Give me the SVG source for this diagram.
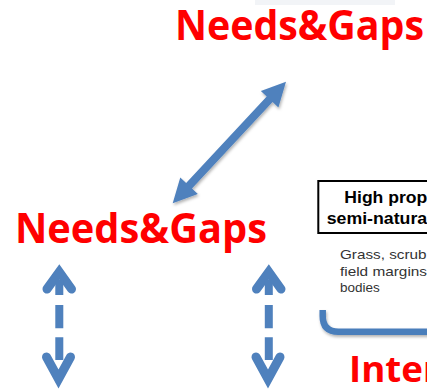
<svg xmlns="http://www.w3.org/2000/svg" width="427" height="391" viewBox="0 0 427 391">
  <defs>
    <style>
      .red { font-family: "Open Sans", "Liberation Sans", sans-serif; font-weight: 700; fill: #ff0000; }
      .boxt { font-family: "Liberation Sans", Arial, sans-serif; font-weight: 700; font-size: 16.5px; fill: #000; }
      .gray { font-family: "Liberation Sans", Arial, sans-serif; font-size: 13.5px; fill: #333333; }
      .blue { fill: #4f81bd; }
      .chev { fill: none; stroke: #4f81bd; stroke-width: 9; stroke-linejoin: miter; stroke-miterlimit: 10; stroke-linecap: round; }
      .shaft { fill: none; stroke: #4f81bd; stroke-width: 8; }
    </style>
    <filter id="sh" x="-20%" y="-20%" width="140%" height="160%">
      <feDropShadow dx="1" dy="2" stdDeviation="1.5" flood-color="#000" flood-opacity="0.3"/>
    </filter>
    <g id="dashArrow">
      <polyline class="chev" points="47,289 59.3,272 71.5,289"/>
      <path class="shaft" d="M59.3 280 V295 M59.3 305 V328.3 M59.3 337.3 V360"/>
      <polyline class="chev" points="46.5,357 58.5,379 70.5,357"/>
    </g>
  </defs>

  <rect width="427" height="391" fill="#ffffff"/>
  <rect x="255" y="0" width="140" height="5" fill="#f2f4f7"/>

  <g id="needs-top">
    <text class="red" x="175" y="40" font-size="42" textLength="249" lengthAdjust="spacingAndGlyphs">Needs&amp;Gaps</text>
  </g>

  <g id="needs-left">
    <text class="red" x="15" y="243" font-size="42" textLength="252" lengthAdjust="spacingAndGlyphs">Needs&amp;Gaps</text>
  </g>

  <g id="habitat-box">
    <rect x="318.3" y="181" width="130" height="52" fill="#ffffff" stroke="#000" stroke-width="2"/>
    <text class="boxt" x="344.3" y="203.3" textLength="83" lengthAdjust="spacingAndGlyphs">High prop</text>
    <text class="boxt" x="326.7" y="224.3" textLength="100.5" lengthAdjust="spacingAndGlyphs">semi-natura</text>
    <text class="gray" x="340" y="259.3" textLength="86.5" lengthAdjust="spacingAndGlyphs">Grass, scrub</text>
    <text class="gray" x="340" y="275.7" textLength="87" lengthAdjust="spacingAndGlyphs">field margins</text>
    <text class="gray" x="340" y="291.7">bodies</text>
  </g>

  <g id="inter">
    <text class="red" x="349" y="381.7" font-size="35" textLength="74" lengthAdjust="spacingAndGlyphs">Inte</text>
    <text class="red" x="423" y="381.7" font-size="35">r</text>
  </g>

  <g id="connectors">
    <polygon class="blue" filter="url(#sh)" points="286,81.7 278.42,107.44 272.57,101.99 191.99,188.47 197.84,193.92 172.7,203.3 180.28,177.56 186.13,183.01 266.71,96.53 260.86,91.08"/>
    <use href="#dashArrow"/>
    <use href="#dashArrow" transform="translate(209.5,0)"/>
    <path d="M322.7 310 V316 Q322.7 331.7 338.4 331.7 H440" fill="none" stroke="#4a7ebb" stroke-width="6.5" filter="url(#sh)"/>
  </g>
</svg>
